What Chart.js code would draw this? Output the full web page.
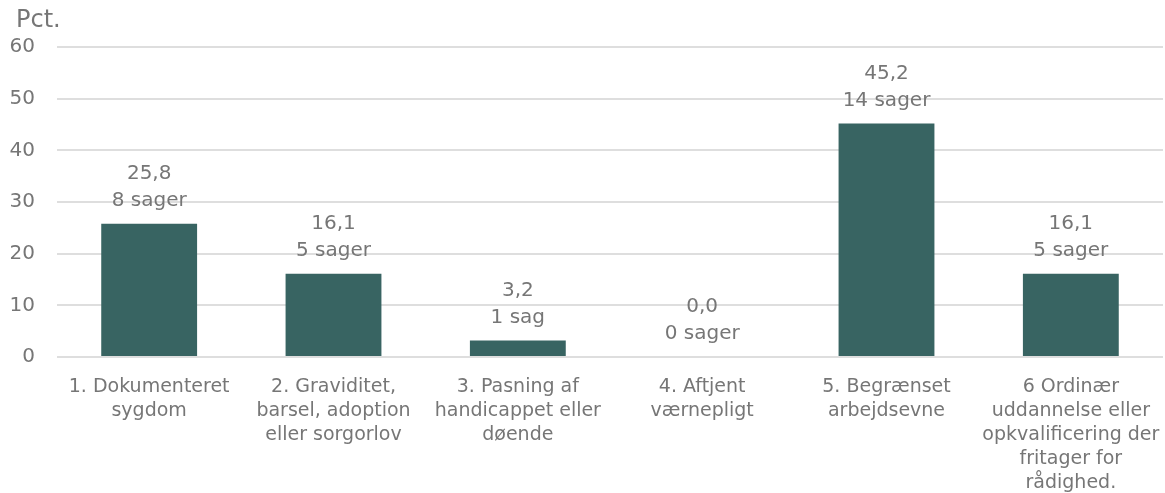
<!DOCTYPE html>
<html>
<head>
<meta charset="utf-8">
<script src="https://cdn.jsdelivr.net/npm/chart.js@4.4.1/dist/chart.umd.min.js"></script>
<style>
  html, body { margin: 0; padding: 0; background: #fff; }
  #wrap { width: 1165px; height: 493px; }
</style>
</head>
<body>
<div id="wrap"><canvas id="chart"></canvas></div>
<script>
// Kategorier (linjeskift som i originalen)
const categories = [
    ['1. Dokumenteret', 'sygdom'],
    ['2. Graviditet,', 'barsel, adoption', 'eller sorgorlov'],
    ['3. Pasning af', 'handicappet eller', 'døende'],
    ['4. Aftjent', 'værnepligt'],
    ['5. Begrænset', 'arbejdsevne'],
    ['6 Ordinær', 'uddannelse eller', 'opkvalificering der', 'fritager for', 'rådighed.']
];
const pctValues = [25.8, 16.1, 3.2, 0.0, 45.2, 16.1];
const caseCounts = [8, 5, 1, 0, 14, 5];
const yTicks = [0, 10, 20, 30, 40, 50, 60];

const textColor = '#767676';
const barColor = '#386462';
const fontFamily = '"DejaVu Sans", sans-serif';

function fmt(v) {
    return v.toFixed(1).replace('.', ',');
}

// Tegner værdi + antal sager over hver søjle
const barLabels = {
    id: 'barLabels',
    afterDatasetsDraw(chart) {
        const ctx = chart.ctx;
        const meta = chart.getDatasetMeta(0);
        ctx.save();
        ctx.fillStyle = textColor;
        ctx.font = '20px ' + fontFamily;
        ctx.textAlign = 'center';
        ctx.textBaseline = 'middle';
        meta.data.forEach(function (bar, i) {
            const n = caseCounts[i];
            const line2 = n + (n === 1 ? ' sag' : ' sager');
            ctx.fillText(fmt(pctValues[i]), bar.x, bar.y - 50);
            ctx.fillText(line2, bar.x, bar.y - 23);
        });
        // enhed øverst til venstre
        ctx.font = '24px ' + fontFamily;
        ctx.textAlign = 'left';
        ctx.fillText('Pct.', 16, 21);
        ctx.restore();
    }
};

new Chart(document.getElementById('chart'), {
    type: 'bar',
    data: {
        labels: categories,
        datasets: [{
            data: pctValues,
            backgroundColor: barColor,
            borderWidth: 0,
            barPercentage: 0.52,
            categoryPercentage: 1.0
        }]
    },
    options: {
        responsive: true,
        maintainAspectRatio: false,
        animation: false,
        layout: { padding: { top: 47, right: 2, left: 0, bottom: 0 } },
        plugins: {
            legend: { display: false },
            tooltip: { enabled: false }
        },
        scales: {
            x: {
                grid: { display: false, drawTicks: false },
                border: { display: false },
                ticks: {
                    color: textColor,
                    font: { family: fontFamily, size: 19, lineHeight: 1.263 },
                    padding: 18,
                    maxRotation: 0,
                    autoSkip: false
                },
                afterFit: function (scale) {
                    scale.height = 136;
                    scale.paddingLeft = 0;
                    scale.paddingRight = 0;
                }
            },
            y: {
                min: 0,
                max: 60,
                afterBuildTicks: function (scale) {
                    scale.ticks = yTicks.map(v => ({ value: v }));
                },
                grid: { color: '#dedede', lineWidth: 2, drawTicks: false },
                border: { display: false },
                ticks: {
                    color: textColor,
                    font: { family: fontFamily, size: 20 },
                    padding: 22
                },
                afterFit: function (scale) { scale.width = 57; }
            }
        }
    },
    plugins: [barLabels]
});
</script>
</body>
</html>
